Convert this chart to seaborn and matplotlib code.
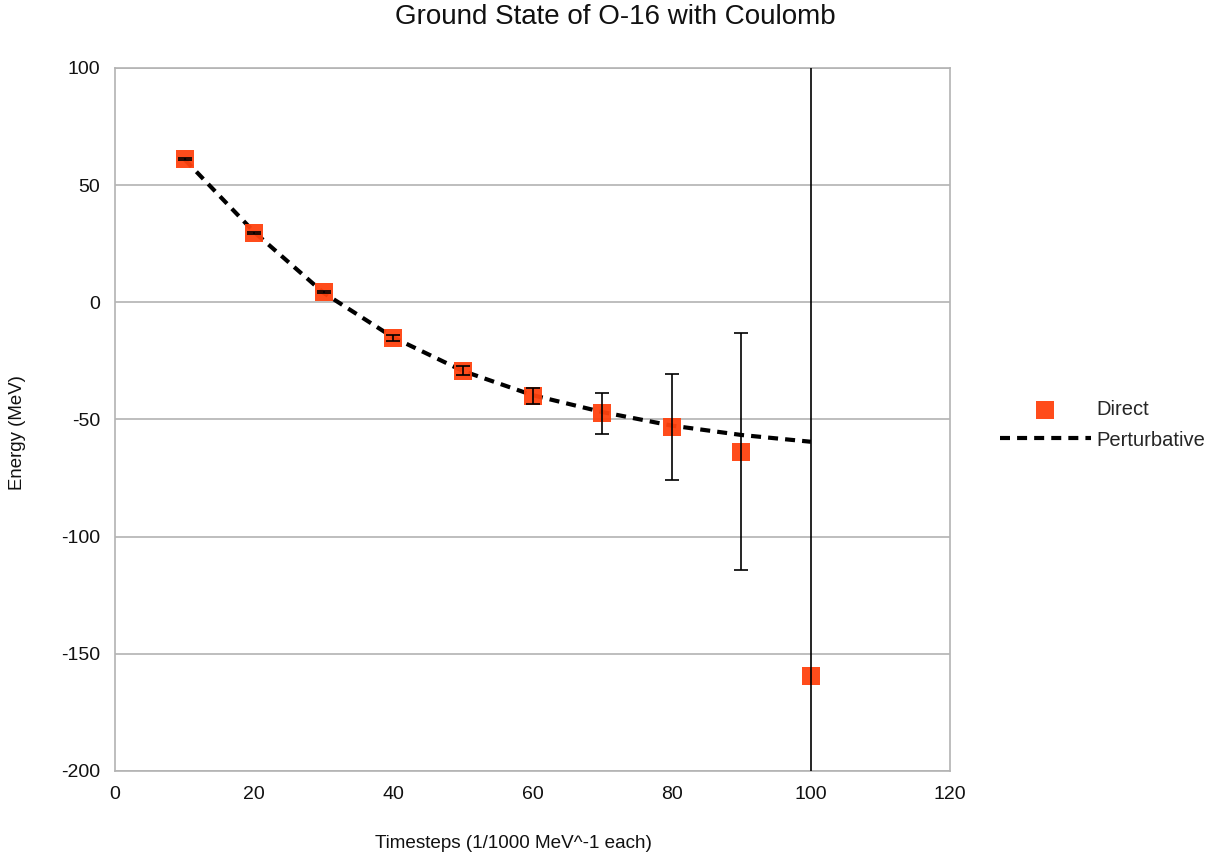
import matplotlib
matplotlib.use("Agg")
import matplotlib.pyplot as plt
import seaborn as sns
import pandas as pd

# data
timesteps = [10, 20, 30, 40, 50, 60, 70, 80, 90, 100]
direct = [61.0, 29.5, 4.3, -15.2, -29.2, -40.0, -47.4, -53.2, -63.7, -159.5]
direct_err = [0.4, 0.4, 0.4, 1.4, 2.0, 3.4, 8.7, 22.6, 50.6, 300.0]
perturbative = [61.0, 30.0, 4.0, -15.0, -29.3, -39.6, -46.8, -52.6, -56.6, -59.5]

df = pd.DataFrame({"t": timesteps, "direct": direct, "err": direct_err,
                   "pert": perturbative})

sns.set_style("white")
plt.rcParams["font.family"] = ["Liberation Sans", "DejaVu Sans"]
plt.rcParams["axes.unicode_minus"] = False

fig = plt.figure(figsize=(12.19, 8.59), dpi=100)
ax = fig.add_axes([115 / 1219, 1 - 771 / 859, 835 / 1219, 703 / 859])

grid_col = "#b3b3b3"
orange = "#ff420e"

#perturbative curve
sns.lineplot(data=df, x="t", y="pert", ax=ax, color="black", linewidth=3,
             dashes=False, label="Perturbative", zorder=3)
ax.lines[-1].set_dashes((2.4, 1.7))

#direct points
sns.scatterplot(data=df, x="t", y="direct", ax=ax, marker="s", s=180,
                color=orange, edgecolor=orange, linewidth=0, alpha=0.95,
                label="Direct", zorder=4)

#error bars drawn on top of the squares
ax.errorbar(df["t"], df["direct"], yerr=df["err"], fmt="none",
            ecolor="black", elinewidth=1.2, capsize=4.7, capthick=1.2, zorder=5)

ax.set_xlim(0, 120)
ax.set_ylim(-200, 100)
ax.set_xticks(range(0, 121, 20))
ax.set_yticks(range(-200, 101, 50))
ax.yaxis.grid(True, color=grid_col, linewidth=1.2)
ax.xaxis.grid(False)
for s in ax.spines.values():
    s.set_color(grid_col)
    s.set_linewidth(1.2)
ax.tick_params(axis="both", direction="out", length=7, width=1.2,
               color=grid_col, labelsize=14, labelcolor="#111111")

ax.set_xlabel("Timesteps (1/1000 MeV^-1 each)", fontsize=13.6, color="#111111")
ax.set_ylabel("Energy (MeV)", fontsize=13.4, color="#111111")
ax.xaxis.set_label_coords(0.477, -0.091)
ax.yaxis.set_label_coords(-0.106, 0.482)

fig.suptitle("Ground State of O-16 with Coulomb", fontsize=20, x=0.5045, y=0.980,
             va="center", color="#111111")

handles, labels = ax.get_legend_handles_labels()
order = [labels.index("Direct"), labels.index("Perturbative")]
ax.legend([handles[i] for i in order], [labels[i] for i in order],
          loc="center left", bbox_to_anchor=(1000 / 1219, 1 - 425 / 859),
          bbox_transform=fig.transFigure, frameon=False, fontsize=14.5,
          handlelength=4.5, handletextpad=0.3, labelspacing=0.55, borderpad=0,
          borderaxespad=0)

plt.savefig("out.png", dpi=100)
